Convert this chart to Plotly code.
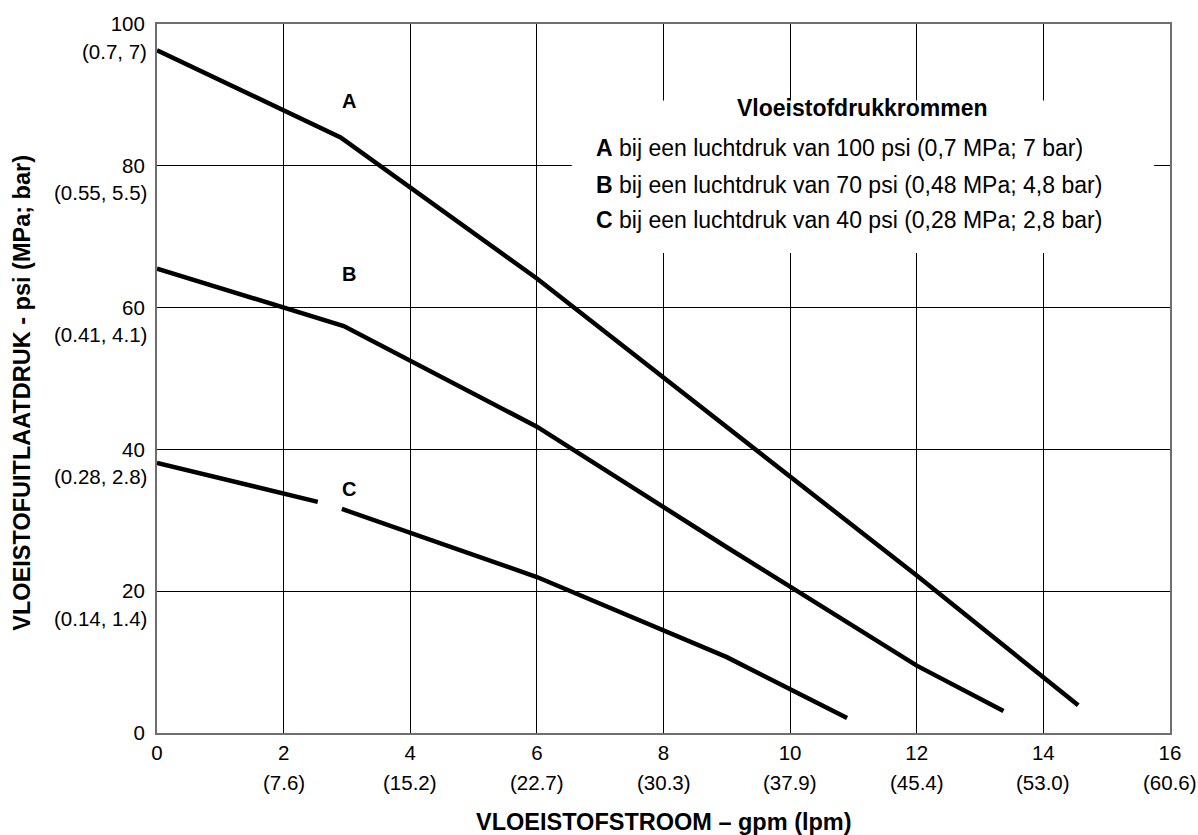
import plotly.graph_objects as go

# flow in gpm, outlet pressure in psi
flow_a = [0, 2.9, 6, 9, 12, 14.55]
psi_a = [96.3, 84.0, 64.1, 43.2, 22.2, 3.9]

flow_b = [0, 2.95, 6, 9, 12, 13.37]
psi_b = [65.5, 57.4, 43.2, 26.2, 9.5, 3.1]

# curve C is broken where its label sits
flow_c = [0, 2.54, None, 2.92, 6, 9, 10.9]
psi_c = [38.1, 32.6, None, 31.6, 22.0, 10.7, 2.1]

x_ticks = [0, 2, 4, 6, 8, 10, 12, 14, 16]
x_lpm = ["", "(7.6)", "(15.2)", "(22.7)", "(30.3)", "(37.9)", "(45.4)", "(53.0)", "(60.6)"]
y_ticks = [0, 20, 40, 60, 80, 100]
y_bar = ["", "(0.14, 1.4)", "(0.28, 2.8)", "(0.41, 4.1)", "(0.55, 5.5)", "(0.7, 7)"]

legend_title = "Vloeistofdrukkrommen"
legend_lines = [
    "<b>A</b> bij een luchtdruk van 100 psi (0,7 MPa; 7 bar)",
    "<b>B</b> bij een luchtdruk van 70 psi (0,48 MPa; 4,8 bar)",
    "<b>C</b> bij een luchtdruk van 40 psi (0,28 MPa; 2,8 bar)",
]

FONT = "Liberation Sans, Arial, sans-serif"

fig = go.Figure()

for xs, ys in [(flow_a, psi_a), (flow_b, psi_b), (flow_c, psi_c)]:
    fig.add_trace(go.Scatter(
        x=xs, y=ys, mode="lines",
        line=dict(color="black", width=4.5),
        connectgaps=False, hoverinfo="skip", showlegend=False
    ))

# curve labels
for name, yv in [("A", 89.2), ("B", 64.7), ("C", 34.4)]:
    fig.add_annotation(x=3.03, y=yv, text=f"<b>{name}</b>", showarrow=False,
                       font=dict(size=20, color="black", family=FONT))

# legend box
fig.add_shape(type="rect", x0=6.55, x1=15.75, y0=67.7, y1=89.2,
              fillcolor="white", line=dict(width=0), layer="above")
fig.add_annotation(x=11.14, y=88.2, text=f"<b>{legend_title}</b>", showarrow=False,
                   font=dict(size=23, color="black", family=FONT))
for txt, yv in zip(legend_lines, [82.5, 77.3, 72.4]):
    fig.add_annotation(x=6.9, y=yv, text=txt, showarrow=False, xanchor="left",
                       font=dict(size=23, color="black", family=FONT))

# second-line tick labels (metric units)
for xv, t in zip(x_ticks, x_lpm):
    if t:
        fig.add_annotation(x=xv, y=0, xref="x", yref="paper", yanchor="middle",
                           yshift=-49, text=t, showarrow=False,
                           font=dict(size=20.5, color="black", family=FONT))
for yv, t in zip(y_ticks, y_bar):
    if t:
        fig.add_annotation(x=0, y=yv, xref="paper", yref="y", xanchor="right",
                           yanchor="middle", xshift=-8, yshift=-27, text=t,
                           showarrow=False,
                           font=dict(size=20.5, color="black", family=FONT))

# axis titles
fig.add_annotation(x=0.5, y=0, xref="paper", yref="paper", yanchor="middle",
                   yshift=-89, text="<b>VLOEISTOFSTROOM – gpm (lpm)</b>",
                   showarrow=False,
                   font=dict(size=23.5, color="black", family=FONT))
fig.add_annotation(x=0, y=0.48, xref="paper", yref="paper", xanchor="center",
                   yanchor="middle", xshift=-135,
                   text="<b>VLOEISTOFUITLAATDRUK - psi (MPa; bar)</b>",
                   showarrow=False, textangle=-90,
                   font=dict(size=23.5, color="black", family=FONT))

fig.update_xaxes(
    range=[0, 16], tickvals=x_ticks, ticktext=[str(v) for v in x_ticks],
    showgrid=True, gridcolor="black", gridwidth=1,
    showline=True, linecolor="#6e6e6e", linewidth=2, mirror=True,
    ticks="", zeroline=False,
    tickfont=dict(size=20.5, color="black", family=FONT)
)
fig.update_yaxes(
    range=[0, 100], tickvals=y_ticks, ticktext=[str(v) for v in y_ticks],
    showgrid=True, gridcolor="black", gridwidth=1,
    showline=True, linecolor="#6e6e6e", linewidth=2, mirror=True,
    ticks="", zeroline=False, ticklabelstandoff=6,
    tickfont=dict(size=20.5, color="black", family=FONT)
)

fig.update_layout(
    width=1198, height=835,
    margin=dict(l=157, r=28, t=20, b=102),
    plot_bgcolor="white", paper_bgcolor="white",
    font=dict(family=FONT, color="black")
)

fig.write_html("out.html", config={"displayModeBar": False},
               post_script="document.body.style.margin='0';")
